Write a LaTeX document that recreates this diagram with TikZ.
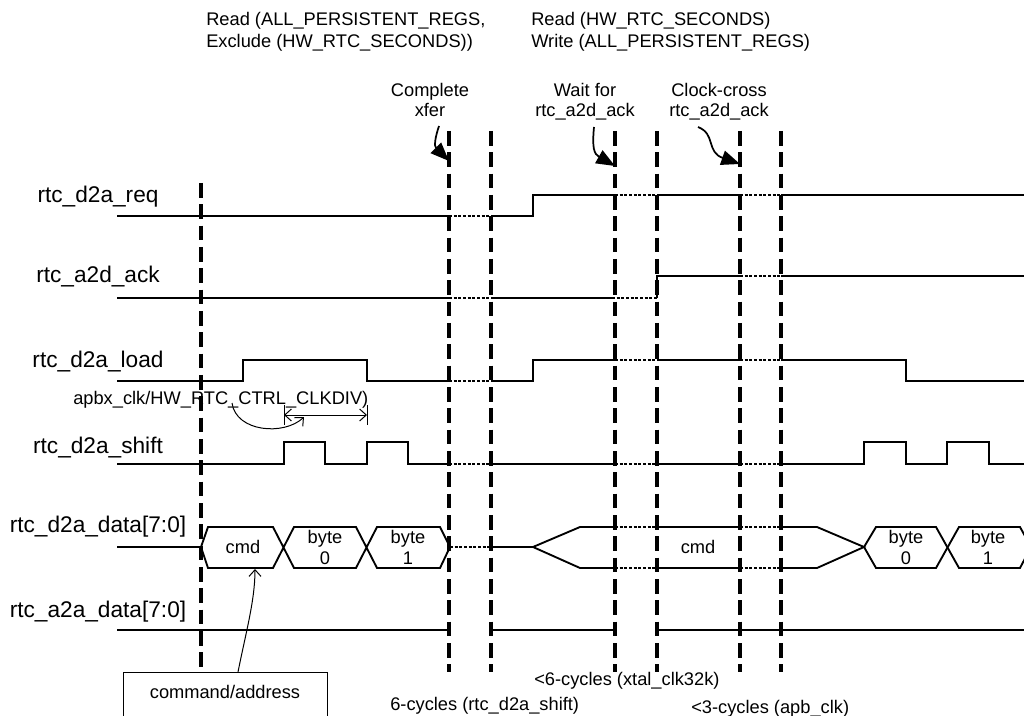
\documentclass[tikz,border=0pt]{standalone}
\usepackage{fontspec}
\setmainfont{Liberation Sans}
\usetikzlibrary{arrows.meta}
\begin{document}
\begin{tikzpicture}[x=0.75pt,y=-0.75pt,
 sig/.style={line width=1.4pt, line join=miter},
 dotseg/.style={line width=2pt, dash pattern=on 2.2pt off 1.3pt},
 gridline/.style={line width=2.4pt, dash pattern=on 11pt off 5pt},
 lab/.style={font=\fontsize{17}{20}\selectfont, anchor=base, inner sep=0pt},
 txt/.style={font=\fontsize{13.7}{16.5}\selectfont, inner sep=0pt},
 bigarrow/.style={line width=1.3pt, -{Triangle[length=14pt,width=11pt]}},
 thinarrow/.style={line width=0.75pt, -{Straight Barb[length=5pt,width=9pt]}},
 dimarrow/.style={line width=0.75pt, {Straight Barb[length=5pt,width=9pt]}-{Straight Barb[length=5pt,width=9pt]}},
]
\useasboundingbox (0,0) rectangle (1024,716);

% vertical dashed time markers
\coordinate (t0) at (201,183); \coordinate (b0) at (201,672);
\foreach \n/\x in {1/449,2/491,3/615,4/657,5/740,6/781}{
  \coordinate (t\n) at (\x,131); \coordinate (b\n) at (\x,672);
}
\foreach \n in {0,...,6}{ \draw[gridline] (t\n) -- (b\n); }

% top texts
\node[txt, anchor=base west] (r1a) at (206,26) {Read (ALL\_PERSISTENT\_REGS,};
\node[txt, anchor=base west] (r1b) at (206,48) {Exclude (HW\_RTC\_SECONDS))};
\node[txt, anchor=base west] (r2a) at (531,26) {Read (HW\_RTC\_SECONDS)};
\node[txt, anchor=base west] (r2b) at (531,48) {Write (ALL\_PERSISTENT\_REGS)};

\node[txt, anchor=base] (cx1) at (430,97) {Complete};
\node[txt, anchor=base] (cx2) at (430,117) {xfer};
\node[txt, anchor=base] (wf1) at (585,97) {Wait for};
\node[txt, anchor=base] (wf2) at (585,117) {rtc\_a2d\_ack};
\node[txt, anchor=base] (cc1) at (719,97) {Clock-cross};
\node[txt, anchor=base] (cc2) at (719,117) {rtc\_a2d\_ack};

\coordinate (s1) at (439,126); \coordinate (e1) at (449,161);
\coordinate (s2) at (594,127); \coordinate (e2) at (615,166);
\coordinate (s3) at (698,127); \coordinate (e3) at (740,164);
\draw[bigarrow] (s1) .. controls (435,138) and (434,146) .. (e1);
\draw[bigarrow] (s2) .. controls (592,148) and (594,154) .. (e2);
\draw[bigarrow] (s3) .. controls (716,134) and (706,152) .. (e3);

% signal labels
\node[lab] (lreq) at (98,203) {rtc\_d2a\_req};
\node[lab] (lack) at (98,283) {rtc\_a2d\_ack};
\node[lab] (lload) at (98,368) {rtc\_d2a\_load};
\node[lab] (lshift) at (98,453) {rtc\_d2a\_shift};
\node[lab] (ldata) at (98,532) {rtc\_d2a\_data[7:0]};
\node[lab] (la2a) at (98,617) {rtc\_a2a\_data[7:0]};

% rtc_d2a_req
\draw[sig] (117,216) -- (449,216);
\draw[dotseg] (449,216) -- (491,216);
\draw[sig] (491,216) -- (533,216) -- (533,195) -- (615,195);
\draw[dotseg] (615,195) -- (657,195);
\draw[sig] (657,195) -- (740,195);
\draw[dotseg] (740,195) -- (781,195);
\draw[sig] (781,195) -- (1024,195);

% rtc_a2d_ack
\draw[sig] (117,298) -- (449,298);
\draw[dotseg] (449,298) -- (491,298);
\draw[sig] (491,298) -- (612,298);
\draw[dotseg] (612,298) -- (657,298);
\draw[sig] (657,298) -- (657,276) -- (740,276);
\draw[dotseg] (740,276) -- (781,276);
\draw[sig] (781,276) -- (1024,276);

% rtc_d2a_load
\draw[sig] (117,381) -- (243,381) -- (243,360) -- (367,360) -- (367,381) -- (449,381);
\draw[dotseg] (449,381) -- (491,381);
\draw[sig] (491,381) -- (533,381) -- (533,360) -- (615,360);
\draw[dotseg] (615,360) -- (657,360);
\draw[sig] (657,360) -- (740,360);
\draw[dotseg] (740,360) -- (781,360);
\draw[sig] (781,360) -- (906,360) -- (906,381) -- (1024,381);

% clock divider annotation
\node[txt, anchor=base west] (clkdiv) at (73,404) {apbx\_clk/HW\_RTC\_CTRL\_CLKDIV)};
\coordinate (cs) at (232,403); \coordinate (ce) at (304,417);
\draw[thinarrow] (cs) .. controls (236,432) and (284,436) .. (ce);
\coordinate (d1t) at (284,405); \coordinate (d1b) at (284,425);
\coordinate (d2t) at (367,405); \coordinate (d2b) at (367,425);
\coordinate (d1) at (284,415); \coordinate (d2) at (367,415);
\draw[line width=0.75pt] (d1t) -- (d1b);
\draw[line width=0.75pt] (d2t) -- (d2b);
\draw[dimarrow] (d1) -- (d2);

% rtc_d2a_shift
\draw[sig] (117,464) -- (284,464) -- (284,442) -- (325,442) -- (325,464) -- (367,464) -- (367,442) -- (408,442) -- (408,464) -- (449,464);
\draw[dotseg] (449,464) -- (491,464);
\draw[sig] (491,464) -- (615,464);
\draw[dotseg] (615,464) -- (657,464);
\draw[sig] (657,464) -- (740,464);
\draw[dotseg] (740,464) -- (781,464);
\draw[sig] (781,464) -- (864,464) -- (864,442) -- (906,442) -- (906,464) -- (947,464) -- (947,442) -- (989,442) -- (989,464) -- (1024,464);

% rtc_d2a_data[7:0]
\draw[sig] (117,547) -- (201,547);
\draw[sig] (201,547) -- (208,527) -- (273,527) -- (294,568) -- (356,568) -- (377,527) -- (440,527) -- (450,547) -- (440,568) -- (377,568) -- (356,527) -- (294,527) -- (273,568) -- (208,568) -- cycle;
\node[txt, anchor=base] (cmd1) at (243,553) {cmd};
\node[txt, anchor=base] (b0a) at (325,543) {byte};
\node[txt, anchor=base] (b0b) at (325,564) {0};
\node[txt, anchor=base] (b1a) at (408,543) {byte};
\node[txt, anchor=base] (b1b) at (408,564) {1};
\draw[dotseg] (450,547) -- (491,547);
\draw[sig] (491,547) -- (533,547);
\draw[sig] (615,527) -- (580,527) -- (533,547) -- (580,568) -- (615,568);
\draw[dotseg] (615,527) -- (657,527);
\draw[dotseg] (615,568) -- (657,568);
\draw[sig] (657,527) -- (740,527);
\draw[sig] (657,568) -- (740,568);
\draw[dotseg] (740,527) -- (781,527);
\draw[dotseg] (740,568) -- (781,568);
\draw[sig] (781,527) -- (817,527) -- (864,547) -- (817,568) -- (781,568);
\node[txt, anchor=base] (cmd2) at (698,553) {cmd};
\draw[sig] (864,547) -- (876,527) -- (936,527) -- (959,568) -- (1020,568) -- (1031,547);
\draw[sig] (864,547) -- (876,568) -- (936,568) -- (959,527) -- (1020,527) -- (1031,547);
\node[txt, anchor=base] (b2a) at (906,543) {byte};
\node[txt, anchor=base] (b2b) at (906,564) {0};
\node[txt, anchor=base] (b3a) at (988,543) {byte};
\node[txt, anchor=base] (b3b) at (988,564) {1};

% rtc_a2a_data[7:0]
\draw[sig] (117,630) -- (449,630);
\draw[sig] (491,630) -- (615,630);
\draw[sig] (657,630) -- (1024,630);

% command/address box
\node[draw, line width=0.75pt, anchor=north west, minimum width=153pt, minimum height=45pt, inner sep=0pt] (box) at (123,672) {};
\node[txt, anchor=base] (boxtxt) at (225,698) {command/address};
\coordinate (bs) at (238,672); \coordinate (ct) at (255,569);
\draw[thinarrow] (bs) .. controls (246,632) and (255,600) .. (ct);

% bottom texts
\node[txt, anchor=base west] (cyc1) at (390,710) {6-cycles (rtc\_d2a\_shift)};
\node[txt, anchor=base west] (cyc2) at (534,685) {<6-cycles (xtal\_clk32k)};
\node[txt, anchor=base west] (cyc3) at (691,713) {<3-cycles (apb\_clk)};
\end{tikzpicture}
\end{document}
